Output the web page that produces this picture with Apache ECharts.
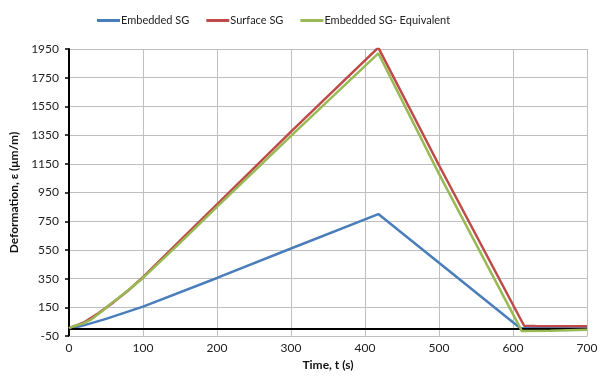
<!DOCTYPE html>
<html>
<head>
<meta charset="utf-8">
<script src="https://cdn.jsdelivr.net/npm/echarts@6/dist/echarts.min.js"></script>
<style>html,body{margin:0;padding:0;background:#fff;}#c{width:604px;height:376px;}</style>
</head>
<body>
<div id="c"></div>
<script>
var seriesNames = ['Embedded SG', 'Surface SG', 'Embedded SG- Equivalent'];
var xTicks = [0, 100, 200, 300, 400, 500, 600, 700];
var yTicks = [-50, 150, 350, 550, 750, 950, 1150, 1350, 1550, 1750, 1950];

var tEmbedded = [0, 20, 50, 100, 200, 300, 418, 610, 650, 700];
var vEmbedded = [0, 25, 70, 155, 355, 560, 800, 5, 5, 5];

var tSurface = [0, 10, 20, 40, 60, 80, 100, 150, 200, 300, 418, 500, 615, 630, 700];
var vSurface = [5, 25, 45, 110, 185, 268, 360, 615, 868, 1375, 1960, 1140, 22, 20, 18];

var tEquiv = [0, 8, 18, 30, 45, 60, 80, 100, 150, 200, 300, 418, 500, 612, 650, 700];
var vEquiv = [5, 22, 35, 65, 125, 190, 270, 355, 600, 850, 1345, 1920, 1080, -15, -12, -5];

function pairs(t, v) { return t.map(function (x, i) { return [x, v[i]]; }); }

var colors = ['#4a7ebb', '#be4b48', '#98b954'];
var font = 'Lato';

var chart = echarts.init(document.getElementById('c'));
chart.setOption({
  animation: false,
  textStyle: { fontFamily: font },
  legend: {
    top: 10,
    left: 92,
    icon: 'rect',
    itemWidth: 23,
    itemHeight: 3,
    itemGap: 17,
    textStyle: { fontFamily: font, fontSize: 11, color: '#222', padding: [0, 0, 0, -4] },
    data: seriesNames
  },
  grid: { left: 69, right: 17, top: 49, bottom: 39 },
  xAxis: {
    type: 'value',
    min: xTicks[0],
    max: xTicks[xTicks.length - 1],
    interval: 100,
    name: 'Time, t (s)',
    nameLocation: 'middle',
    nameGap: 22,
    nameTextStyle: { fontFamily: font, fontSize: 12, fontWeight: 'bold', color: '#111' },
    axisLine: { show: true, onZero: false, lineStyle: { color: '#bfbfbf', width: 1 } },
    axisTick: { show: false },
    axisLabel: { fontFamily: font, fontSize: 12, color: '#222', margin: 6 },
    splitLine: { show: true, lineStyle: { color: '#bfbfbf', width: 1 } }
  },
  yAxis: {
    type: 'value',
    min: yTicks[0],
    max: yTicks[yTicks.length - 1],
    interval: 200,
    name: 'Deformation, ε (μm/m)',
    nameLocation: 'middle',
    nameGap: 47,
    nameTextStyle: { fontFamily: font, fontSize: 12, fontWeight: 'bold', color: '#111' },
    axisLine: { show: true, lineStyle: { color: '#000', width: 2 } },
    axisTick: { show: true, length: 4, lineStyle: { color: '#000', width: 1.5 } },
    axisLabel: { fontFamily: font, fontSize: 12, color: '#222', margin: 10, formatter: function (v) { return String(v); } },
    splitLine: { show: true, lineStyle: { color: '#bfbfbf', width: 1 } }
  },
  series: [
    {
      name: seriesNames[0], type: 'line', showSymbol: false, symbol: 'none',
      data: pairs(tEmbedded, vEmbedded), z: 3,
      lineStyle: { color: colors[0], width: 2.5 }, itemStyle: { color: colors[0] },
      markLine: {
        silent: true, symbol: 'none', label: { show: false },
        lineStyle: { color: '#000', width: 2, type: 'solid' },
        data: [{ yAxis: 0 }]
      }
    },
    {
      name: seriesNames[1], type: 'line', showSymbol: false, symbol: 'none',
      data: pairs(tSurface, vSurface), z: 4,
      lineStyle: { color: colors[1], width: 2.5 }, itemStyle: { color: colors[1] }
    },
    {
      name: seriesNames[2], type: 'line', showSymbol: false, symbol: 'none',
      data: pairs(tEquiv, vEquiv), z: 5,
      lineStyle: { color: colors[2], width: 2.5 }, itemStyle: { color: colors[2] }
    }
  ]
});
</script>
</body>
</html>
